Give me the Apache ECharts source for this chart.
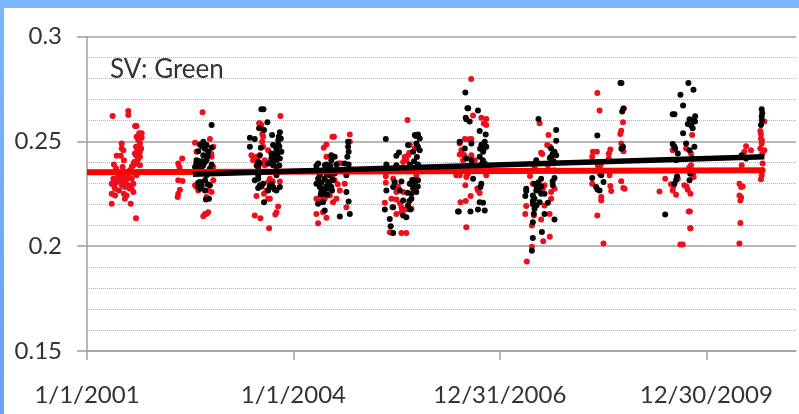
<!DOCTYPE html>
<html><head><meta charset="utf-8">
<style>
html,body{margin:0;padding:0;width:799px;height:414px;overflow:hidden;background:linear-gradient(#7cb6ff,#6aa0f5);}
#paper{position:absolute;left:4px;top:8px;right:0;bottom:0;background:#fff;}
#chart{position:absolute;left:0;top:0;width:799px;height:414px;}
</style>
<script src="https://cdn.jsdelivr.net/npm/echarts@6/dist/echarts.min.js"></script>
</head><body><div id="paper"></div><div id="chart"></div>
<script>
// x values: days since 1/1/2001
const xTickDays = [0, 1095, 2190, 3285];
const xTickLabels = ['1/1/2001', '1/1/2004', '12/31/2006', '12/30/2009'];
const chartNote = 'SV: Green';
const redTrend = [[0, .2352], [3593, .2362]];
const blackTrend = [[562, .2343], [3593, .2426]];
const red2001 = [[136,.2621],[219,.2645],[219,.2626],[255,.2573],[263,.2573],[184,.249],[184,.2466],[290,.2538],[277,.2538],[263,.2522],[290,.2517],[272,.2506],[260,.2474],[281,.249],[267,.2458],[281,.245],[260,.2434],[281,.2426],[267,.241],[157,.2431],[179,.2431],[193,.2458],[196,.241],[143,.2389],[154,.237],[189,.2378],[246,.2386],[263,.2394],[281,.2386],[201,.2346],[228,.2362],[246,.235],[290,.2354],[131,.2298],[154,.2303],[184,.2306],[210,.2322],[175,.233],[237,.2322],[149,.2274],[184,.229],[201,.2282],[246,.2298],[237,.2274],[131,.225],[149,.2242],[196,.225],[210,.2242],[246,.2258],[201,.2226],[131,.2202],[232,.2202],[260,.2133],[166,.2338],[219,.229],[140,.2322],[263,.2338],[272,.2474],[254,.2442],[287,.2466],[272,.2418],[250,.2402],[238,.238],[222,.2345],[193,.2325],[205,.231],[160,.2315],[145,.2285],[170,.2265],[225,.2275]];
const red2002 = [[505,.2418],[484,.2394],[490,.2378],[493,.2362],[484,.2314],[507,.2311],[493,.2269],[484,.225],[481,.2234],[613,.2639],[573,.2493],[652,.2511],[670,.2474],[661,.2426],[581,.245],[670,.2378],[573,.229],[590,.2266],[670,.2314],[643,.2266],[626,.2154],[643,.2162],[617,.2143],[634,.2234],[661,.2258],[635,.2155],[660,.244],[578,.2285]];
const red2003 = [[1026,.2621],[913,.2586],[925,.2578],[934,.2522],[929,.2498],[934,.2474],[872,.2434],[881,.241],[943,.241],[961,.2458],[943,.2386],[970,.2322],[961,.2306],[1023,.2309],[952,.2266],[899,.2239],[939,.225],[961,.2226],[1014,.2189],[1005,.2162],[999,.2151],[890,.2146],[920,.2133],[966,.2085],[970,.2226],[925,.2395],[950,.24],[905,.242],[985,.231],[895,.2425],[918,.2585],[930,.2535]];
const red2004 = [[1302,.2522],[1270,.2485],[1256,.2469],[1270,.2426],[1394,.2533],[1394,.2498],[1332,.2394],[1341,.2266],[1367,.2298],[1314,.2314],[1288,.2242],[1305,.221],[1217,.2226],[1261,.2226],[1217,.2154],[1252,.2162],[1270,.2135],[1226,.2109],[1376,.2186],[1323,.2226],[1310,.2522],[1345,.2395],[1240,.2215],[1300,.2325],[1285,.229],[1330,.2295]];
const red2005 = [[1700,.2602],[1712,.2482],[1739,.2466],[1703,.2434],[1694,.241],[1677,.2402],[1585,.2333],[1585,.2303],[1580,.2207],[1641,.2258],[1615,.2226],[1641,.2223],[1677,.2258],[1668,.2186],[1620,.2186],[1641,.2154],[1668,.2162],[1721,.2178],[1606,.2066],[1668,.2063],[1694,.2063],[1747,.2338],[1624,.2322],[1685,.2425],[1710,.2445],[1660,.2205],[1690,.2175],[1615,.2065],[1650,.2285]];
const red2006 = [[2038,.2797],[2048,.2623],[2092,.2613],[2118,.2607],[2118,.2578],[2004,.2511],[1977,.249],[2039,.2511],[1986,.2458],[1977,.2437],[2039,.2434],[1995,.241],[2057,.241],[1959,.2338],[2012,.233],[2007,.229],[2118,.2338],[2074,.2266],[2083,.2253],[2035,.2239],[2009,.2215],[1981,.221],[2012,.209],[1977,.2338],[2025,.251],[2000,.2435],[2070,.2275],[2105,.2585],[1970,.2345],[2020,.2345]];
const red2007 = [[2401,.2586],[2448,.253],[2441,.2482],[2409,.2445],[2374,.2378],[2445,.2386],[2480,.2362],[2365,.2298],[2427,.229],[2462,.2258],[2462,.2226],[2418,.2274],[2330,.2191],[2325,.2154],[2371,.2146],[2409,.2127],[2360,.2098],[2454,.2154],[2427,.2194],[2455,.2045],[2420,.2023],[2360,.1997],[2333,.1927],[2480,.2274],[2455,.2475],[2415,.244],[2470,.2395],[2350,.2335],[2395,.2275]];
const red2008 = [[2707,.273],[2719,.2647],[2848,.2658],[2843,.2591],[2834,.2551],[2829,.2535],[2834,.249],[2846,.2453],[2776,.2461],[2768,.2442],[2768,.2418],[2684,.245],[2705,.245],[2680,.2426],[2834,.231],[2772,.2338],[2680,.2298],[2776,.2287],[2781,.2263],[2852,.2274],[2728,.2234],[2728,.2218],[2707,.2146],[2740,.2013],[2719,.2378],[2719,.2362],[2845,.2277],[2720,.2345],[2710,.2385],[2725,.239]];
const red2010 = [[3210,.253],[3178,.2466],[3204,.2442],[3107,.2458],[3204,.2386],[3187,.2362],[3067,.2322],[3098,.2295],[3134,.2322],[3037,.2261],[3107,.2266],[3125,.2245],[3169,.229],[3187,.2269],[3201,.225],[3218,.233],[3192,.2165],[3201,.2085],[3160,.2008],[3148,.2008],[3195,.2375],[3215,.2345],[3180,.2285],[3110,.2285],[3200,.2085],[3198,.2165]];
const red2011 = [[3593,.2594],[3572,.2549],[3575,.2514],[3579,.249],[3572,.2466],[3593,.2458],[3496,.2477],[3487,.245],[3522,.2458],[3473,.2386],[3584,.2394],[3584,.2362],[3579,.2338],[3575,.2319],[3461,.2298],[3478,.2285],[3461,.2242],[3466,.2218],[3466,.2111],[3461,.2013],[3575,.2535],[3580,.2505],[3582,.244],[3470,.2232],[3470,.2282]];
const black2002 = [[661,.2578],[617,.2498],[634,.2482],[599,.2485],[661,.2469],[590,.2453],[643,.245],[617,.2434],[634,.241],[581,.241],[599,.2394],[617,.2386],[573,.2378],[590,.2373],[608,.2362],[652,.237],[634,.2338],[599,.2306],[608,.2287],[590,.2303],[652,.229],[599,.2274],[626,.2266],[631,.2223],[647,.2226],[626,.2314],[661,.239],[580,.2395],[595,.2405],[610,.2405],[625,.24],[640,.243],[585,.2365],[625,.2355],[640,.2295],[610,.2475],[625,.2465],[605,.2295],[590,.2285]];
const black2003 = [[925,.2653],[936,.2653],[957,.2591],[939,.2554],[913,.2562],[864,.2517],[890,.2511],[864,.2474],[982,.253],[1023,.2543],[1017,.2522],[1028,.2514],[987,.2482],[1014,.2485],[1005,.2458],[1031,.245],[922,.2469],[978,.2442],[996,.2434],[917,.2434],[908,.2402],[978,.2418],[1005,.241],[1023,.2418],[908,.2378],[961,.2394],[987,.2386],[1005,.2378],[908,.2338],[908,.2322],[890,.2314],[1005,.2338],[934,.2298],[917,.229],[908,.2277],[978,.2298],[987,.2282],[961,.2266],[1023,.2282],[1005,.2266],[939,.221],[1000,.2475],[1020,.2475],[1010,.244],[990,.2405],[1020,.2385],[900,.2385],[915,.2395],[925,.2285],[995,.227],[970,.2285],[1015,.2505]];
const black2004 = [[1226,.2394],[1217,.2383],[1235,.2338],[1226,.2322],[1217,.2298],[1235,.2282],[1261,.2386],[1279,.237],[1261,.2322],[1279,.2306],[1296,.2434],[1314,.2426],[1296,.241],[1323,.239],[1279,.2274],[1296,.2282],[1261,.225],[1226,.2202],[1252,.221],[1261,.217],[1341,.2141],[1394,.2154],[1388,.2213],[1376,.2258],[1385,.2498],[1385,.2474],[1388,.245],[1381,.2426],[1388,.239],[1367,.2394],[1376,.2338],[1314,.2346],[1288,.2338],[1243,.2258],[1270,.2345],[1285,.2295],[1270,.2285],[1255,.2275],[1305,.2315],[1300,.2265],[1240,.2245],[1275,.2245],[1245,.2305],[1225,.2355],[1270,.239],[1290,.2385]];
const black2005 = [[1585,.2511],[1756,.2533],[1739,.253],[1765,.2514],[1747,.249],[1703,.2482],[1765,.2458],[1655,.2447],[1641,.2431],[1730,.245],[1588,.2389],[1641,.2386],[1712,.239],[1756,.239],[1632,.2306],[1624,.2282],[1588,.2266],[1712,.2298],[1739,.229],[1756,.2314],[1747,.2258],[1721,.225],[1677,.2218],[1703,.2194],[1721,.2226],[1580,.2175],[1624,.2186],[1677,.2146],[1694,.2138],[1606,.213],[1611,.2095],[1624,.2063],[1668,.2309],[1659,.2266],[1725,.2315],[1740,.2315],[1755,.2285],[1730,.2275],[1720,.2295],[1700,.2255],[1750,.2425],[1735,.2405],[1755,.2475],[1745,.2525],[1710,.2215],[1715,.2175]];
const black2006 = [[2007,.2733],[2018,.2658],[2074,.2647],[2009,.2613],[2030,.2594],[2083,.2549],[2115,.2533],[1977,.2498],[2039,.249],[2110,.2498],[2092,.2482],[2118,.2474],[2004,.2466],[2101,.245],[2083,.2426],[2012,.2418],[2039,.241],[2092,.239],[2110,.2394],[2048,.2322],[2092,.2298],[2087,.2282],[2083,.221],[2101,.2207],[2074,.2175],[2110,.217],[2034,.2165],[1968,.2165],[2098,.2485],[2105,.2465],[2085,.2465],[2100,.241],[2022,.2658],[1972,.2165],[2012,.2605]];
const black2007 = [[2395,.2607],[2489,.2554],[2489,.2503],[2462,.2466],[2480,.245],[2383,.241],[2462,.2426],[2489,.2434],[2409,.2322],[2471,.229],[2374,.2298],[2330,.2274],[2330,.2263],[2325,.2239],[2365,.2242],[2409,.225],[2374,.2226],[2365,.22],[2374,.2178],[2401,.221],[2445,.2207],[2480,.2127],[2365,.2114],[2427,.2154],[2413,.2068],[2365,.2039],[2360,.1978],[2427,.225],[2383,.2266],[2470,.244],[2455,.242],[2475,.2405],[2395,.2305],[2385,.2285],[2395,.2265],[2410,.2285],[2365,.2215],[2385,.2195],[2370,.2155],[2480,.2325],[2470,.231]];
const black2008 = [[2830,.2778],[2835,.2778],[2839,.2642],[2845,.2655],[2707,.2528],[2843,.2474],[2680,.2325],[2728,.2338],[2740,.2306],[2701,.2282],[2719,.2266],[2708,.227],[2835,.2465]];
const black2010 = [[3190,.2778],[3217,.2746],[3148,.2722],[3162,.2671],[3107,.2629],[3116,.2629],[3226,.262],[3196,.2605],[3218,.2599],[3187,.2583],[3213,.2562],[3162,.2538],[3178,.249],[3107,.2487],[3120,.2466],[3134,.2442],[3222,.2474],[3196,.2458],[3067,.2151],[3130,.2333],[3116,.2298],[3196,.2314],[3125,.241],[3213,.2418],[3205,.2575],[3200,.2345],[3225,.2595],[3115,.2475],[3125,.2315]];
const black2011 = [[3579,.2653],[3579,.2618],[3575,.2578],[3473,.2434],[3496,.2418],[3582,.2635],[3580,.26]];

const redPoints = [].concat(red2001, red2002, red2003, red2004, red2005, red2006, red2007, red2008, red2010, red2011);
const blackPoints = [].concat(black2002, black2003, black2004, black2005, black2006, black2007, black2008, black2010, black2011);

const FONT = 'Lato';
const chart = echarts.init(document.getElementById('chart'), null, {renderer: 'canvas'});
chart.setOption({
  animation: false,
  backgroundColor: 'transparent',
  title: {text: chartNote, left: 105, top: 52, textStyle: {fontFamily: FONT, fontSize: 26, fontWeight: 'normal', color: '#333'}},
  grid: {left: 87, right: 3, top: 36.5, bottom: 63, containLabel: false},
  xAxis: {
    type: 'value', min: 0, max: 3761, splitLine: {show: false},
    axisLine: {lineStyle: {color: '#a0a0a0', width: 1.5}},
    axisTick: {customValues: xTickDays, length: 9, lineStyle: {color: '#a0a0a0', width: 1.5}},
    axisLabel: {customValues: xTickDays, margin: 32, fontFamily: FONT, fontSize: 24, color: '#333',
      formatter: v => xTickLabels[xTickDays.indexOf(v)] || ''}
  },
  yAxis: {
    type: 'value', min: 0.15, max: 0.3, interval: 0.05,
    axisLine: {show: true, lineStyle: {color: '#a0a0a0', width: 1.5}},
    axisTick: {show: true, length: 10, lineStyle: {color: '#a0a0a0', width: 1.5}},
    axisLabel: {margin: 25, fontFamily: FONT, fontSize: 24, color: '#333', formatter: v => String(+v.toFixed(2))},
    splitLine: {show: true, lineStyle: {color: '#a0a0a0', width: 1.5}},
    minorTick: {show: false, splitNumber: 5},
    minorSplitLine: {show: true, lineStyle: {color: '#b4b4b4', type: 'dotted', width: 1}}
  },
  series: [
    {type: 'scatter', data: redPoints, symbolSize: 6, z: 2, itemStyle: {color: '#ee0f1c', opacity: 1}},
    {type: 'scatter', data: blackPoints, symbolSize: 6, z: 3, itemStyle: {color: '#050505', opacity: 1}},
    {type: 'line', data: redTrend, showSymbol: false, z: 4, lineStyle: {color: '#ff0000', width: 6}},
    {type: 'line', data: blackTrend, showSymbol: false, z: 5, lineStyle: {color: '#000', width: 5.5}}
  ]
});
</script></body></html>
